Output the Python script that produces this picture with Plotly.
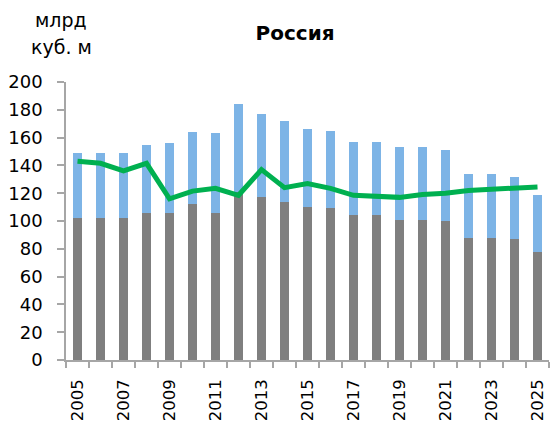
import plotly.graph_objects as go

# Annual figures, bn cubic metres
years = list(range(2005, 2026))
total = [149, 149, 149, 155, 156, 164, 163, 184, 177, 172, 166, 165,
         157, 157, 153, 153, 151, 134, 134, 132, 119]
base = [102, 102, 102, 106, 106, 112, 106, 121, 117, 114, 110, 109,
        104, 104, 101, 101, 100, 88, 88, 87, 78]
trend = [143, 141.5, 136, 141.5, 116, 121.5, 123.5, 118.5, 137, 124, 127, 123.5,
         118.5, 117.5, 117, 119, 120, 122, 123, 124, 124.5]
label_years = list(range(2005, 2026, 2))
y_ticks = list(range(0, 201, 20))

upper = [t - b for t, b in zip(total, base)]

W, H = 550, 424
ML, MR, MT, MB = 66, 1, 82, 64
FONT = "DejaVu Sans"
AXIS_GREY = "#A6A6A6"


def px_x(x):
    return (x - ML) / (W - ML - MR)


def px_y(y):
    return 1 - (y - MT) / (H - MT - MB)


fig = go.Figure()
fig.add_trace(go.Bar(x=years, y=base, width=0.38, marker_color="#7F7F7F",
                     marker_line_width=0, name="base"))
fig.add_trace(go.Bar(x=years, y=upper, width=0.38, marker_color="#7DB4E6",
                     marker_line_width=0, name="upper"))
fig.add_trace(go.Scatter(x=years, y=trend, mode="lines",
                         line=dict(color="#00B050", width=5), name="trend"))

fig.update_layout(
    width=W, height=H,
    margin=dict(l=ML, r=MR, t=MT, b=MB),
    barmode="stack",
    showlegend=False,
    plot_bgcolor="white",
    paper_bgcolor="white",
    font=dict(family=FONT, color="#000000"),
    title=dict(text="<b>Россия</b>", xref="container", x=295 / W,
               y=1 - 33 / H, xanchor="center", yanchor="middle",
               font=dict(size=20, family=FONT, color="#000000")),
)

fig.update_xaxes(
    range=[2004.5, 2025.5], automargin=False,
    tickmode="array", tickvals=label_years,
    ticktext=[str(y) for y in label_years],
    ticks="", tickangle=-90, ticklabelstandoff=11,
    tickfont=dict(size=16.5, family=FONT, color="#000000"),
    showline=True, linecolor=AXIS_GREY, linewidth=1.5,
    showgrid=False, zeroline=False,
    minor=dict(tickmode="array",
               tickvals=[y - 0.5 for y in years] + [years[-1] + 0.5],
               ticks="outside", ticklen=6, tickcolor=AXIS_GREY,
               tickwidth=1.5, showgrid=False),
)

fig.update_yaxes(
    range=[0, 200], automargin=False,
    tickmode="array", tickvals=y_ticks,
    ticks="outside", ticklen=7, tickcolor=AXIS_GREY, tickwidth=1.5,
    ticklabelstandoff=11,
    tickfont=dict(size=18, family=FONT, color="#000000"),
    showline=True, linecolor=AXIS_GREY, linewidth=1.5,
    showgrid=False, zeroline=False,
)

for text, yc in (("млрд", 20), ("куб. м", 47)):
    fig.add_annotation(text=text, xref="paper", yref="paper",
                       x=px_x(61), y=px_y(yc), xanchor="center", yanchor="middle",
                       showarrow=False, font=dict(size=19, family=FONT, color="#000000"))

fig.write_html("out.html")
